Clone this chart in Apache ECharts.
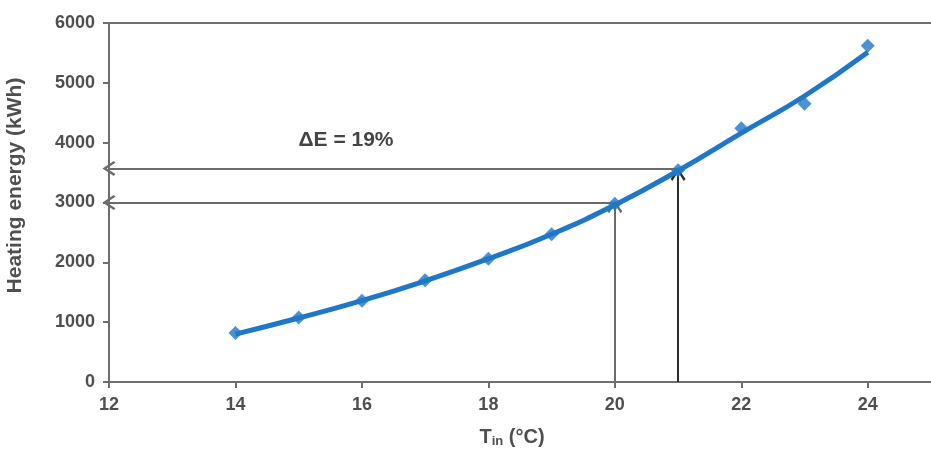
<!DOCTYPE html>
<html><head><meta charset="utf-8">
<script src="https://cdn.jsdelivr.net/npm/echarts@6/dist/echarts.min.js"></script>
<style>html,body{margin:0;padding:0;background:#fff}#c{width:931px;height:452px}</style>
</head><body><div id="c"></div>
<script>
// ---- data ----
const temperatures = [14, 15, 16, 17, 18, 19, 20, 21, 22, 23, 24];
const measuredEnergy = [820, 1080, 1360, 1700, 2060, 2470, 2980, 3540, 4240, 4650, 5620];
const fittedEnergy = [800, 1070, 1360, 1690, 2060, 2470, 2960, 3530, 4160, 4780, 5510];
const baseTemp = 20, raisedTemp = 21;
const baseEnergy = 3000, raisedEnergy = 3570;
const baseArrowTip = 2930, raisedArrowTip = 3470;
const deltaLabel = 'ΔE = 19%';
const yAxisName = 'Heating energy (kWh)';

const fitted = temperatures.map((t, i) => [t, fittedEnergy[i]]);
const measured = temperatures.map((t, i) => [t, measuredEnergy[i]]);

const chevron = 'path://M0 0 L10 12 L7.6 13.9 L0 4.4 L-7.6 13.9 L-10 12 Z';
const labelFont = {fontFamily: 'Liberation Sans, Arial, sans-serif', fontWeight: 'bold', color: '#4f4f4f'};

function arrowSeries(color, lines) {
  return {
    type: 'line', data: [], silent: true,
    markLine: {
      silent: true, animation: false,
      symbol: ['none', chevron], symbolSize: [15, 13],
      label: {show: false},
      lineStyle: {color: color, width: 2, type: 'solid'},
      emphasis: {disabled: true},
      data: lines
    }
  };
}

const chart = echarts.init(document.getElementById('c'));
chart.setOption({
  animation: false,
  backgroundColor: '#fff',
  grid: {left: 109, right: 0, top: 23, bottom: 70, containLabel: false, outerBoundsMode: 'none'},
  xAxis: [{
    type: 'value', min: 12, max: 25, interval: 2,
    name: 'T{s|in} (°C)', nameLocation: 'middle', nameGap: 44,
    nameTextStyle: Object.assign({fontSize: 20, padding: [0, 16, 0, 0],
      rich: {s: Object.assign({fontSize: 13, verticalAlign: 'bottom', padding: [9, 0, 0, 0]}, labelFont)}}, labelFont),
    axisLine: {show: true, lineStyle: {color: '#6e6e6e', width: 2}},
    axisTick: {show: true, inside: false, length: 6, lineStyle: {color: '#6e6e6e', width: 2}},
    axisLabel: Object.assign({fontSize: 18, margin: 14, showMaxLabel: false,
      formatter: v => (v === 25 ? '' : String(v))}, labelFont),
    splitLine: {show: false}
  }, {
    type: 'value', min: 12, max: 25, position: 'top',
    axisLine: {show: true, lineStyle: {color: '#6e6e6e', width: 2}},
    axisTick: {show: false}, axisLabel: {show: false}, splitLine: {show: false}
  }],
  yAxis: {
    type: 'value', min: 0, max: 6000, interval: 1000,
    name: yAxisName, nameLocation: 'middle', nameGap: 83,
    nameTextStyle: Object.assign({fontSize: 21, padding: [0, 0, 0, 34]}, labelFont),
    axisLine: {show: true, lineStyle: {color: '#6e6e6e', width: 2}},
    axisTick: {show: true, inside: false, length: 6, lineStyle: {color: '#6e6e6e', width: 2}},
    axisLabel: Object.assign({fontSize: 18, margin: 14, formatter: v => String(v)}, labelFont),
    splitLine: {show: false}
  },
  series: [
    {
      type: 'line', data: fitted, smooth: true, showSymbol: false, silent: true,
      lineStyle: {color: '#1f77c8', width: 5}, z: 5
    },
    {
      type: 'scatter', data: measured, symbol: 'diamond', symbolSize: 14,
      itemStyle: {color: '#1f77c8'}, z: 6
    },
    arrowSeries('#6b6b6b', [
      [{coord: [baseTemp, baseEnergy]}, {coord: [12, baseEnergy]}],
      [{coord: [raisedTemp, raisedEnergy]}, {coord: [12, raisedEnergy]}],
      [{coord: [baseTemp, 0]}, {coord: [baseTemp, baseArrowTip]}]
    ]),
    arrowSeries('#2e2e2e', [
      [{coord: [raisedTemp, 0]}, {coord: [raisedTemp, raisedArrowTip]}]
    ])
  ],
  graphic: [{
    type: 'text', x: 346, y: 140, silent: true,
    style: {text: deltaLabel, fontFamily: 'Liberation Sans, Arial, sans-serif', fontSize: 21,
      fontWeight: 'bold', fill: '#444', align: 'center', verticalAlign: 'middle'}
  }]
});
</script></body></html>
